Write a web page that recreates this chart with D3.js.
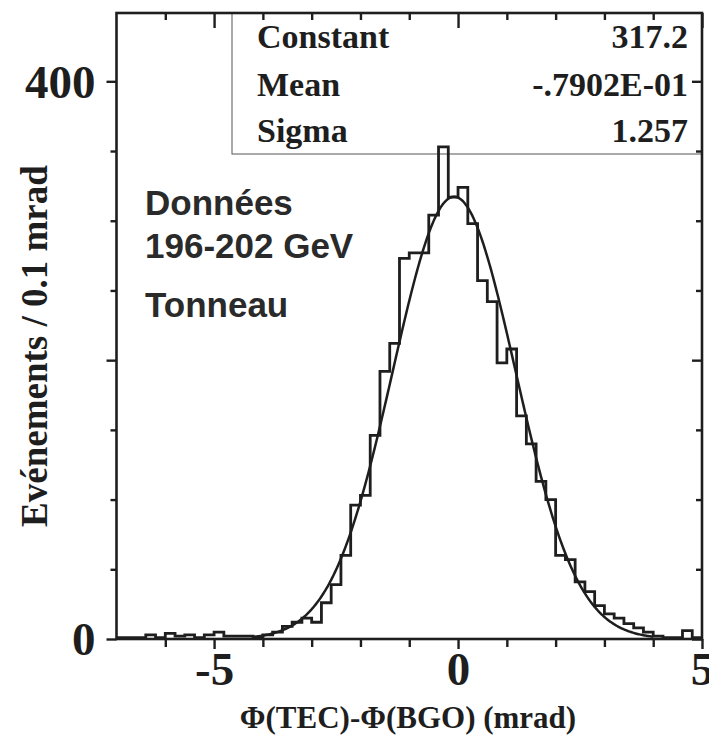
<!DOCTYPE html>
<html><head><meta charset="utf-8">
<script src="https://cdn.jsdelivr.net/npm/d3@7"></script>
<style>body{margin:0;background:#fff} svg{display:block}</style>
</head><body>
<script>
// ---- data ----
const binStart = -7;
const binWidth = 0.2;
const counts = [1,1,1,3,1,4,2,3,1,3,
                5,2,2,2,1,3,5,9,12,15,
                12,26,39,60,96,103,146,192,212,273,
                277,277,304,353,317,324,298,257,242,198,
                208,160,140,113,100,60,57,41,34,24,
                18,15,11,8,5,2,1,1,6,1];
const xDomain = [-7, 5];
const yDomain = [0, 449];
const xMinorTicks = [-6,-5,-4,-3,-2,-1,0,1,2,3,4];
const xMajorTicks = [-5, 0, 5];
const xTickLabels = ["-5", "0", "5"];
const yMinorTicks = [50,100,150,250,300,350];
const yMajorTicks = [0, 200, 400];
const yLabelValues = [0, 400];
const yTickLabels = ["0", "400"];
const fitNames = ["Constant", "Mean", "Sigma"];
const fitLabels = ["317.2", "-.7902E-01", "1.257"];
const fitParams = [317.2, -0.07902, 1.257];
const fitRange = [-4.2, 4.0];
const infoLines = ["Données", "196-202 GeV", "Tonneau"];
const xTitle = "Φ(TEC)-Φ(BGO) (mrad)";
const yTitle = "Evénements / 0.1 mrad";

// ---- layout ----
const W = 709, H = 736;
const L = 116.5, R = 702, T = 13, B = 639;
const ink = "#1e1e1e";

const svg = d3.select("body").append("svg").attr("width", W).attr("height", H);
const x = d3.scaleLinear().domain(xDomain).range([L, R]);
const y = d3.scaleLinear().domain(yDomain).range([B, T]);

// stats box
svg.append("rect").attr("x", 232).attr("y", T).attr("width", R - 232).attr("height", 154 - T)
  .attr("fill", "none").attr("stroke", "#555").attr("stroke-width", 1);

// histogram
const pts = counts.map((c, i) => [binStart + i * binWidth, c]);
pts.push([binStart + counts.length * binWidth, counts[counts.length - 1]]);
const histLine = d3.line().x(d => x(d[0])).y(d => y(d[1])).curve(d3.curveStepAfter);
svg.append("path").attr("d", histLine(pts)).attr("fill", "none")
  .attr("stroke", ink).attr("stroke-width", 2.8).attr("stroke-linejoin", "miter");

// fit curve
const [A, mu, sig] = fitParams;
const fx = d3.range(fitRange[0], fitRange[1] + 1e-9, 0.02);
const curve = d3.line().x(v => x(v)).y(v => y(A * Math.exp(-0.5 * ((v - mu) / sig) ** 2)));
svg.append("path").attr("d", curve(fx)).attr("fill", "none")
  .attr("stroke", ink).attr("stroke-width", 2.5);

// axes
function styleAxis(g) {
  g.select(".domain").remove();
  g.selectAll("line").attr("stroke", ink).attr("stroke-width", 2.4);
}
// bottom
svg.append("g").attr("transform", `translate(0,${B})`)
  .call(d3.axisBottom(x).tickValues(xMinorTicks.filter(v => !xMajorTicks.includes(v))).tickSize(8).tickFormat(""))
  .call(styleAxis);
svg.append("g").attr("transform", `translate(0,${B})`)
  .call(d3.axisBottom(x).tickValues(xMajorTicks).tickSize(10).tickPadding(3)
        .tickFormat((d, i) => xTickLabels[i]))
  .call(styleAxis)
  .call(g => g.selectAll("text").attr("fill", ink)
        .style("font", "bold 47px 'Liberation Serif', 'Times New Roman', serif"));
// top (ticks inward)
svg.append("g").attr("transform", `translate(0,${T})`)
  .call(d3.axisBottom(x).tickValues(xMinorTicks.filter(v => !xMajorTicks.includes(v))).tickSize(7).tickFormat(""))
  .call(styleAxis);
svg.append("g").attr("transform", `translate(0,${T})`)
  .call(d3.axisBottom(x).tickValues(xMajorTicks).tickSize(15).tickFormat(""))
  .call(styleAxis);
// left (outward)
svg.append("g").attr("transform", `translate(${L},0)`)
  .call(d3.axisLeft(y).tickValues(yMinorTicks).tickSize(6).tickFormat(""))
  .call(styleAxis);
svg.append("g").attr("transform", `translate(${L},0)`)
  .call(d3.axisLeft(y).tickValues(yMajorTicks).tickSize(10).tickFormat(""))
  .call(styleAxis);
svg.append("g").attr("transform", `translate(${L},0)`)
  .call(d3.axisLeft(y).tickValues(yLabelValues).tickSize(0).tickPadding(21)
        .tickFormat((d, i) => yTickLabels[i]))
  .call(styleAxis)
  .call(g => g.selectAll("text").attr("fill", ink).attr("dy", "0.34em")
        .style("font", "bold 47px 'Liberation Serif', 'Times New Roman', serif"));
// right (inward)
svg.append("g").attr("transform", `translate(${R},0)`)
  .call(d3.axisLeft(y).tickValues(yMinorTicks).tickSize(6).tickFormat(""))
  .call(styleAxis);
svg.append("g").attr("transform", `translate(${R},0)`)
  .call(d3.axisLeft(y).tickValues(yMajorTicks).tickSize(10).tickFormat(""))
  .call(styleAxis);

// frame
svg.append("rect").attr("x", L).attr("y", T).attr("width", R - L).attr("height", B - T)
  .attr("fill", "none").attr("stroke", ink).attr("stroke-width", 2.6);

// stats text
const statFont = "bold 34px 'Liberation Serif', 'Times New Roman', serif";
const rowY = [48, 96, 142];
fitNames.forEach((n, i) => {
  svg.append("text").attr("x", 257).attr("y", rowY[i]).text(n)
    .style("font", statFont).attr("fill", ink);
  svg.append("text").attr("x", 688).attr("y", rowY[i]).attr("text-anchor", "end").text(fitLabels[i])
    .style("font", statFont).attr("fill", ink);
});

// info text
const infoY = [215, 258, 317];
infoLines.forEach((t, i) => {
  svg.append("text").attr("x", 145).attr("y", infoY[i]).text(t)
    .style("font", "bold 35px 'Liberation Sans', Arial, sans-serif").attr("fill", "#2a2a2a");
});

// titles
svg.append("text").attr("x", 408).attr("y", 728).attr("text-anchor", "middle").text(xTitle)
  .style("font", "bold 31px 'Liberation Serif', 'Times New Roman', serif").attr("fill", ink);
svg.append("text").attr("transform", "translate(47,346) rotate(-90)").attr("text-anchor", "middle")
  .text(yTitle).style("font", "bold 37px 'Liberation Serif', 'Times New Roman', serif").attr("fill", ink);
</script>
</body></html>
